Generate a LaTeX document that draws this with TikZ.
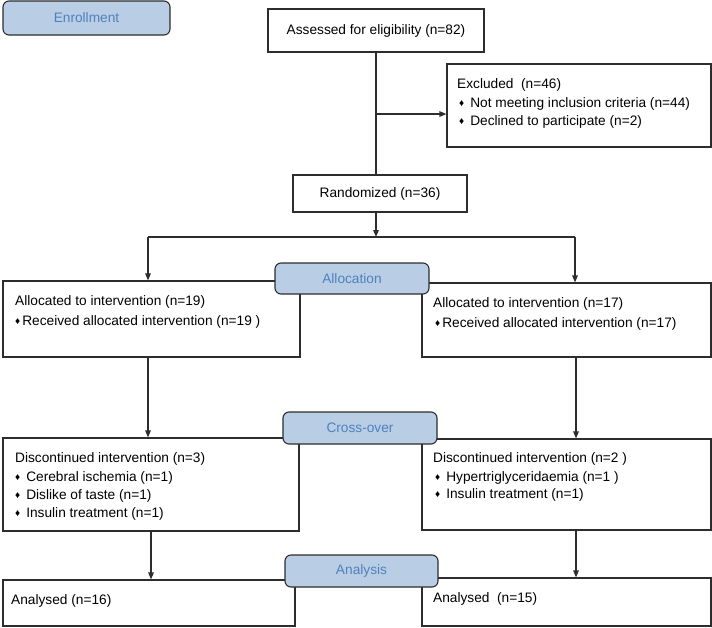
\documentclass[tikz,border=0pt]{standalone}
\usepackage{fontspec}
\setmainfont{Liberation Sans}
\usetikzlibrary{arrows.meta}
\definecolor{labfill}{RGB}{185,205,229}
\definecolor{labtext}{RGB}{79,129,189}
\definecolor{edge}{RGB}{45,45,45}
\newcommand\dmd{\raisebox{0.6pt}{\fontsize{10}{10}\selectfont\char"2666}}
\tikzset{
  box/.style={draw=edge, line width=1.1pt, inner sep=0pt, fill=white},
  lab/.style={draw=edge, line width=1.1pt, fill=labfill, rounded corners=6pt, inner sep=0pt, text=labtext},
  txt/.style={anchor=base west, inner sep=0pt},
  conn/.style={draw=edge, line width=1.3pt},
  arr/.style={conn, -{Triangle[length=7pt,width=5.5pt]}},
}
\begin{document}
\begin{tikzpicture}[x=1pt,y=-1pt,font=\fontsize{13.7}{16}\selectfont]
\useasboundingbox (0,0) rectangle (712,627);
% boxes
\node[box, minimum width=216, minimum height=43] (assess) at (376,30.5) {Assessed for eligibility (n=82)};
\node[box, minimum width=264, minimum height=83] (excl) at (579,105.5) {};
\node[box, minimum width=174, minimum height=37] (rand) at (380,193.5) {Randomized (n=36)};
\node[box, minimum width=297, minimum height=76] (allocL) at (151.5,319) {};
\node[box, minimum width=289, minimum height=74] (allocR) at (566.5,320) {};
\node[box, minimum width=296, minimum height=93] (discL) at (151,484.5) {};
\node[box, minimum width=289, minimum height=91] (discR) at (566.5,484.5) {};
\node[box, minimum width=292, minimum height=46] (anL) at (149,603) {};
\node[box, minimum width=289, minimum height=48] (anR) at (566.5,602) {};
% texts
\node[txt] (e1) at (457,88) {Excluded\ \ (n=46)};
\node[txt] (e2) at (459,107) {\dmd\hspace{6pt}Not meeting inclusion criteria (n=44)};
\node[txt] (e3) at (459,125) {\dmd\hspace{6pt}Declined to participate (n=2)};
\node[txt] (al1) at (15,305) {Allocated to intervention (n=19)};
\node[txt] (al2) at (15,325) {\dmd\hspace{2pt}Received allocated intervention (n=19 )};
\node[txt] (ar1) at (433,307) {Allocated to intervention (n=17)};
\node[txt] (ar2) at (435,327) {\dmd\hspace{2pt}Received allocated intervention (n=17)};
\node[txt] (dl1) at (15,462) {Discontinued intervention (n=3)};
\node[txt] (dl2) at (15,481) {\dmd\hspace{6pt}Cerebral ischemia (n=1)};
\node[txt] (dl3) at (15,499) {\dmd\hspace{6pt}Dislike of taste (n=1)};
\node[txt] (dl4) at (15,517) {\dmd\hspace{6pt}Insulin treatment (n=1)};
\node[txt] (dr1) at (433,462) {Discontinued intervention (n=2 )};
\node[txt] (dr2) at (435,481) {\dmd\hspace{6pt}Hypertriglyceridaemia (n=1 )};
\node[txt] (dr3) at (435,498) {\dmd\hspace{6pt}Insulin treatment (n=1)};
\node[txt] (nl) at (11,604) {Analysed (n=16)};
\node[txt] (nr) at (433,602) {Analysed\ \ (n=15)};
% connectors
\coordinate (split) at (376,237);
\coordinate (sl) at (148,237);
\coordinate (sr) at (575,237);
\coordinate (ex) at (376,114);
\draw[conn] (assess.south) -- (assess.south |- rand.north);
\draw[arr] (ex) -- (excl.west |- ex);
\draw[arr] (split |- rand.south) -- (split);
\draw[conn] (sl) -- (sr);
\draw[arr] (sl) -- (sl |- allocL.north);
\draw[arr] (sr) -- (sr |- allocR.north);
\draw[arr] (sl |- allocL.south) -- (sl |- discL.north);
\draw[arr] (576,0 |- allocR.south) -- (576,0 |- discR.north);
\draw[arr] (151,0 |- discL.south) -- (151,0 |- anL.north);
\draw[arr] (576,0 |- discR.south) -- (576,0 |- anR.north);
% stage labels
\node[lab, minimum width=167, minimum height=34] (enr) at (86.5,18) {Enrollment};
\node[lab, minimum width=154, minimum height=31] (alloc) at (352,278.5) {Allocation};
\node[lab, minimum width=154, minimum height=32] (cross) at (360,428) {Cross-over};
\node[lab, minimum width=153, minimum height=32] (anal) at (361.5,571) {Analysis};
\end{tikzpicture}
\end{document}
